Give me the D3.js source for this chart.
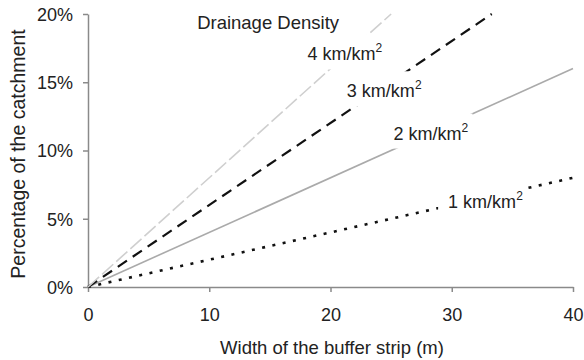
<!DOCTYPE html>
<html>
<head>
<meta charset="utf-8">
<script src="https://cdn.jsdelivr.net/npm/d3@7"></script>
<style>
  html, body { margin: 0; padding: 0; background: #fff; }
  svg { display: block; font-family: "Liberation Sans", Arial, sans-serif; }
</style>
</head>
<body>
<svg id="chart" width="584" height="360"></svg>
<script>
// Buffer-strip share of the catchment for each drainage density
const densities = [1, 2, 3, 4];                 // km/km²
const lineWidths = [[0, 40], [0, 40], [0, 33.3], [0, 25]];   // buffer width (m)
const linePercents = [[0, 8], [0, 16], [0, 20], [0, 20]];    // % of catchment
// Where each density label sits (width m, percent)
const labelAt = [[29.7, 5.8], [25.2, 10.8], [21.35, 13.9], [18.1, 16.6]];
const legendTitleAt = [9.0, 18.9];

const xTicks = [0, 10, 20, 30, 40];
const yTicks = [0, 5, 10, 15, 20];

const styles = {
  1: { stroke: "#111", width: 2.6, dash: "3,7.5", cap: "butt" },
  2: { stroke: "#aaaaaa", width: 1.6, dash: null, cap: "butt" },
  3: { stroke: "#111", width: 2.2, dash: "11,7", cap: "butt" },
  4: { stroke: "#cfcfcf", width: 1.6, dash: "15,4", cap: "butt" }
};

const svg = d3.select("#chart");
const x = d3.scaleLinear().domain([0, 40]).range([88, 573]);
const y = d3.scaleLinear().domain([0, 20]).range([287, 14]);
const axisColor = "#8a8a8a";

// Axes
const gx = svg.append("g").attr("transform", `translate(0,${y(0)})`)
  .call(d3.axisBottom(x).tickValues(xTicks).tickSize(5).tickPadding(16).tickSizeOuter(0));
const gy = svg.append("g").attr("transform", `translate(${x(0)},0)`)
  .call(d3.axisLeft(y).tickValues(yTicks).tickSize(5).tickPadding(10).tickSizeOuter(0)
    .tickFormat(d => d + "%"));
[gx, gy].forEach(g => {
  g.select(".domain").attr("stroke", axisColor).attr("stroke-width", 1.5);
  g.selectAll(".tick line").attr("stroke", axisColor).attr("stroke-width", 1.5);
  g.selectAll(".tick text").attr("fill", "#222").attr("font-size", 18)
    .attr("font-family", "Liberation Sans, Arial, sans-serif");
});
gy.selectAll(".tick text").attr("dy", "0.36em");

// Lines
const line = d3.line().x(d => x(d[0])).y(d => y(d[1]));
densities.forEach((dn, i) => {
  const pts = lineWidths[i].map((w, j) => [w, linePercents[i][j]]);
  const s = styles[dn];
  svg.append("path")
    .attr("d", line(pts))
    .attr("fill", "none")
    .attr("stroke", s.stroke)
    .attr("stroke-width", s.width)
    .attr("stroke-linecap", s.cap)
    .attr("stroke-dasharray", s.dash);
});

// Density labels on white boxes
densities.forEach((dn, i) => {
  const g = svg.append("g");
  const bg = g.append("rect").attr("fill", "#fff");
  const t = g.append("text")
    .attr("x", x(labelAt[i][0]))
    .attr("y", y(labelAt[i][1]))
    .attr("font-size", 18)
    .attr("fill", "#222");
  t.append("tspan").text(dn + " km/km");
  t.append("tspan").attr("font-size", 12).attr("dy", -8).text("2");
  const b = t.node().getBBox();
  const base = y(labelAt[i][1]);
  bg.attr("x", b.x - 10).attr("width", b.width + 14)
    .attr("y", base - 26).attr("height", 35);
});

// Legend title
svg.append("text")
  .attr("x", x(legendTitleAt[0]))
  .attr("y", y(legendTitleAt[1]))
  .attr("font-size", 18.5)
  .attr("fill", "#222")
  .text("Drainage Density");

// Axis titles
svg.append("text")
  .attr("x", 332).attr("y", 354)
  .attr("text-anchor", "middle")
  .attr("font-size", 18.5)
  .attr("fill", "#222")
  .text("Width of the buffer strip (m)");

svg.append("text")
  .attr("transform", "translate(25,154) rotate(-90)")
  .attr("text-anchor", "middle")
  .attr("font-size", 19.5)
  .attr("fill", "#222")
  .text("Percentage of the catchment");
</script>
</body>
</html>
